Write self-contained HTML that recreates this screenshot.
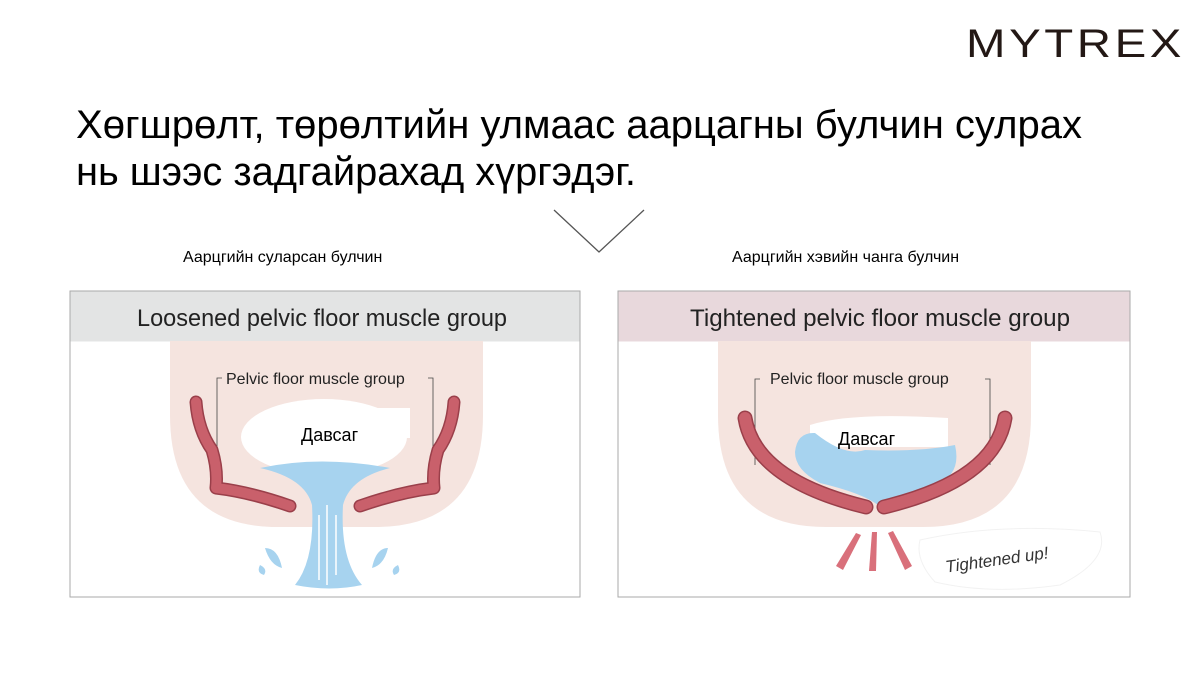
<!DOCTYPE html>
<html><head><meta charset="utf-8"><style>
body{margin:0;width:1200px;height:674px;background:#fff;overflow:hidden;font-family:"Liberation Sans",sans-serif}
</style></head><body>
<svg width="1200" height="674" viewBox="0 0 1200 674" xmlns="http://www.w3.org/2000/svg" font-family="Liberation Sans, sans-serif">
<text x="966" y="57" font-size="40" letter-spacing="3" fill="#231815" textLength="219" lengthAdjust="spacingAndGlyphs">MYTREX</text>
<text x="76" y="138" font-size="39.5" fill="#000" textLength="1006" lengthAdjust="spacingAndGlyphs">Хөгшрөлт, төрөлтийн улмаас аарцагны булчин сулрах</text>
<text x="76" y="185" font-size="39.5" fill="#000" textLength="560" lengthAdjust="spacingAndGlyphs">нь шээс задгайрахад хүргэдэг.</text>
<polyline points="554,210 599,252 644,210" fill="none" stroke="#555" stroke-width="1.3"/>
<text x="183" y="262" font-size="16" fill="#000">Аарцгийн суларсан булчин</text>
<text x="732" y="262" font-size="16" fill="#000">Аарцгийн хэвийн чанга булчин</text>

<!-- left panel -->
<rect x="70" y="291" width="510" height="306" fill="#fff" stroke="#aaa"/>
<rect x="70.5" y="291.5" width="509" height="50" fill="#e3e4e4"/>
<text x="137" y="326" font-size="24" fill="#222" textLength="370" lengthAdjust="spacingAndGlyphs">Loosened pelvic floor muscle group</text>
<path d="M170 341 H483 V415 Q483 527 375 527 H278 Q170 527 170 415 Z" fill="#f5e4df"/>
<polyline points="217,470 217,378 222,378" fill="none" stroke="#444" stroke-width="0.8"/>
<polyline points="433,470 433,378 428,378" fill="none" stroke="#444" stroke-width="0.8"/>
<text x="226" y="384" font-size="16" fill="#222">Pelvic floor muscle group</text>
<ellipse cx="324" cy="437" rx="83" ry="38" fill="#fff"/>
<rect x="350" y="408" width="60" height="30" fill="#fff"/>
<text x="301" y="441" font-size="18" fill="#000">Давсаг</text>
<path d="M260 468 Q320 455 390 468 Q350 478 343 505 Q340 560 362 585 Q330 592 295 585 Q315 560 312 505 Q305 478 260 468 Z" fill="#a7d3ef"/>
<path d="M265 548 Q278 548 282 568 Q270 565 265 548 Z M260 565 q8 4 4 10 q-8 -2 -4 -10 Z M388 548 Q376 548 372 568 Q384 565 388 548 Z M398 565 q-8 4 -4 10 q8 -2 4 -10 Z" fill="#a7d3ef"/>
<g fill="none" stroke-linecap="round" stroke-linejoin="round">
<path d="M196 402 Q198 430 212 450 Q218 470 216 488 Q250 492 290 506" stroke="#9a3f4a" stroke-width="13"/>
<path d="M196 402 Q198 430 212 450 Q218 470 216 488 Q250 492 290 506" stroke="#c9606b" stroke-width="10"/>
<path d="M454 402 Q452 430 438 450 Q432 470 434 488 Q400 492 360 506" stroke="#9a3f4a" stroke-width="13"/>
<path d="M454 402 Q452 430 438 450 Q432 470 434 488 Q400 492 360 506" stroke="#c9606b" stroke-width="10"/>
</g>
<line x1="319" y1="515" x2="319" y2="580" stroke="#fff" stroke-width="1.5"/>
<line x1="327" y1="505" x2="327" y2="585" stroke="#fff" stroke-width="1.5"/>
<line x1="336" y1="515" x2="336" y2="575" stroke="#fff" stroke-width="1.5"/>

<!-- right panel -->
<rect x="618" y="291" width="512" height="306" fill="#fff" stroke="#aaa"/>
<rect x="618.5" y="291.5" width="511" height="50" fill="#e8d8dc"/>
<text x="690" y="326" font-size="24" fill="#222" textLength="380" lengthAdjust="spacingAndGlyphs">Tightened pelvic floor muscle group</text>
<path d="M718 341 H1031 V415 Q1031 527 923 527 H826 Q718 527 718 415 Z" fill="#f5e4df"/>
<polyline points="755,465 755,379 760,379" fill="none" stroke="#444" stroke-width="0.8"/>
<polyline points="990,465 990,379 985,379" fill="none" stroke="#444" stroke-width="0.8"/>
<text x="770" y="384" font-size="16" fill="#222">Pelvic floor muscle group</text>
<path d="M810 425 Q850 412 948 418 V447 H810 Z" fill="#fff"/>
<path d="M795 452 Q797 432 815 433 Q845 457 865 450 Q920 452 955 445 Q962 475 935 485 Q895 495 878 505 Q862 493 820 483 Q795 470 795 452 Z" fill="#a7d3ef"/>
<text x="838" y="445" font-size="18" fill="#000">Давсаг</text>
<g fill="none" stroke-linecap="round">
<path d="M745 418 Q755 480 866 507" stroke="#9a3f4a" stroke-width="15"/>
<path d="M745 418 Q755 480 866 507" stroke="#c9606b" stroke-width="12"/>
<path d="M1005 418 Q995 480 884 507" stroke="#9a3f4a" stroke-width="15"/>
<path d="M1005 418 Q995 480 884 507" stroke="#c9606b" stroke-width="12"/>
</g>
<polygon points="856,533 861,535 843,570 836,566" fill="#d9707b"/>
<polygon points="872,532 877,532 876,571 869,571" fill="#d9707b"/>
<polygon points="888,533 893,531 912,566 905,570" fill="#d9707b"/>
<path d="M920 540 Q1000 522 1100 532 Q1110 560 1060 585 Q990 595 935 582 Q915 560 920 540 Z" fill="none" stroke="#f2f2f2"/>
<text x="945" y="565" font-size="17" fill="#333" font-style="italic" transform="rotate(-8 1000 560)">Tightened up!</text>
</svg>
</body></html>
